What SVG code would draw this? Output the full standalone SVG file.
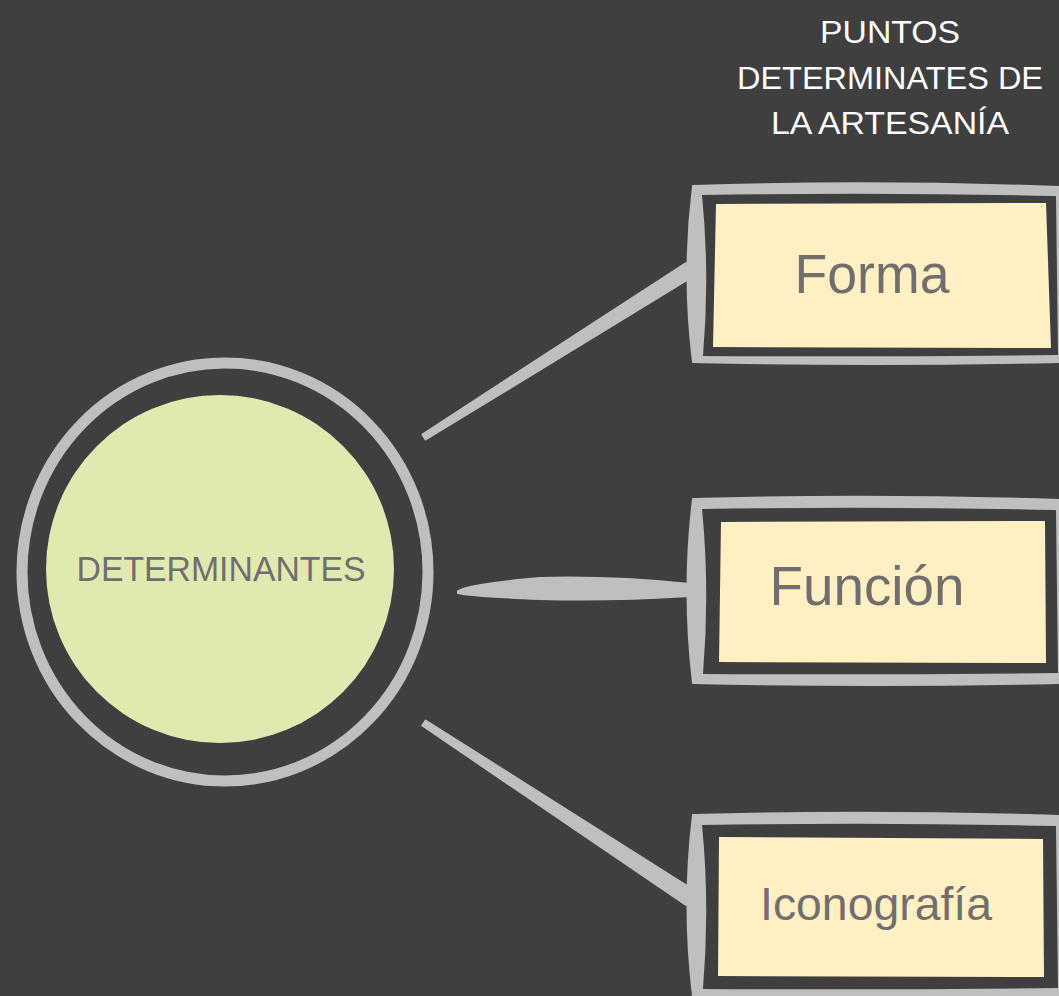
<svg xmlns="http://www.w3.org/2000/svg" width="1059" height="996" viewBox="0 0 1059 996">
<defs>
<style>
.bg{fill:#3f3f3f}
.gray{fill:#bfbfbf;stroke:#bfbfbf;stroke-width:2;stroke-linejoin:round}
.dark{fill:#3f3f3f}
.cream{fill:#fff0c4}
.lbl{font-family:"Liberation Sans",Arial,sans-serif;fill:#736e6e;text-anchor:middle}
.title{font-family:"Liberation Sans",Arial,sans-serif;fill:#ffffff;text-anchor:middle;font-size:32px}
</style>
</defs>
<rect class="bg" x="0" y="0" width="1059" height="996"/>
<g id="title">
<text class="title" x="890" y="43" textLength="140" lengthAdjust="spacingAndGlyphs">PUNTOS</text>
<text class="title" x="890" y="89" textLength="306" lengthAdjust="spacingAndGlyphs">DETERMINATES DE</text>
<text class="title" x="890" y="134" textLength="238" lengthAdjust="spacingAndGlyphs">LA ARTESANÍA</text>
</g>
<g id="connectors">
<path class="gray" d="M422.4,434.5 L686,263 L692,277 L425.6,439.5 Z"/>
<path class="gray" d="M458,591 Q470,584 540,578 Q610,576 690,584 L690,596 Q610,601 540,599 Q470,596 458,593 Z"/>
<path class="gray" d="M425.6,720.5 L692,889 L686,905 L422.3,725.5 Z"/>
</g>
<g id="determinantes">
<ellipse cx="225" cy="572" rx="203" ry="209" fill="none" stroke="#bfbfbf" stroke-width="11"/>
<circle cx="220" cy="569" r="174" fill="#dfeab0"/>
<text class="lbl" x="221" y="581" font-size="35" textLength="289" lengthAdjust="spacingAndGlyphs">DETERMINANTES</text>
</g>
<g id="forma">
<path class="gray" d="M693,186 Q870,180 1059,187 L1059,362 Q870,366 693,362 Q682,274 693,186 Z"/>
<path class="dark" d="M702,195 Q880,192 1056,196 L1058,355 Q880,357 703,356 Q710,275 702,195 Z"/>
<polygon class="cream" points="716,204 1046,203 1051,348 713,347"/>
<text class="lbl" x="872" y="293" font-size="56" textLength="155" lengthAdjust="spacingAndGlyphs">Forma</text>
</g>
<g id="funcion">
<path class="gray" d="M693,499 Q870,494 1059,500 L1059,683 Q870,687 693,683 Q682,590 693,499 Z"/>
<path class="dark" d="M702,509 Q880,506 1056,510 L1058,673 Q880,675 703,674 Q710,590 702,509 Z"/>
<polygon class="cream" points="721,522 1045,521 1046,663 719,662"/>
<text class="lbl" x="867" y="605" font-size="56" textLength="195" lengthAdjust="spacingAndGlyphs">Función</text>
</g>
<g id="iconografia">
<path class="gray" d="M693,815 Q870,810 1059,816 L1059,996 L693,996 Q682,905 693,815 Z"/>
<path class="dark" d="M702,825 Q880,822 1056,826 L1058,988 Q880,990 703,989 Q710,905 702,825 Z"/>
<polygon class="cream" points="719,837 1043,839 1044,977 718,976"/>
<text class="lbl" x="876" y="920" font-size="46" textLength="232" lengthAdjust="spacingAndGlyphs">Iconografía</text>
</g>
</svg>
